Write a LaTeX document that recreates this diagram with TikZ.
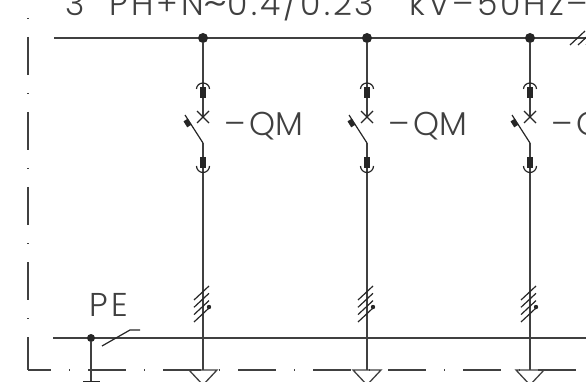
\documentclass[tikz,border=0pt]{standalone}
\usepackage{fontspec}
\newfontfamily\cadfont{Poppins Light}
\usetikzlibrary{positioning}
\definecolor{cadline}{gray}{0.25}
\tikzset{
  px/.style={x=1pt,y=-1pt},
  busline/.style={draw=cadline,line width=1.7pt},
  wireline/.style={draw=cadline,line width=1.3pt},
  thinline/.style={draw=black!85,line width=1.2pt},
  borderline/.style={draw=cadline,line width=1.2pt,dash pattern=on 38pt off 18pt on 1pt off 18pt},
  junction/.style={circle,fill=black!85,inner sep=0pt,minimum size=10pt},
  cadtext/.style={inner sep=0pt,text=cadline,font=\cadfont\fontsize{33}{33}\selectfont},
}
\begin{document}
\begin{tikzpicture}[px]
  \useasboundingbox (0,0) rectangle (586,382);
  \clip (0,0) rectangle (586,382);

  \node [cadtext,anchor=base west] (title) at (65,16) {\addfontfeature{LetterSpace=9}3\hspace{25pt}PH+N\scalebox{1.5}[1.1]{\char"7E}0.4/0.23\hspace{35pt}kV–50Hz–};

  % border
  \coordinate (bordertop) at (28,-38);
  \coordinate (bordercorner) at (28,370);
  \coordinate (borderright) at (586,370);
  \draw [borderline] (bordertop) -- (bordercorner);
  \draw [borderline,dash phase=15pt] (bordercorner) -- (borderright);

  % busbars
  \coordinate (busl) at (54,38);
  \coordinate (busr) at (586,38);
  \coordinate (pel) at (53,338);
  \coordinate (per) at (586,338);
  \draw [busline] (busl) -- (busr);
  \draw [wireline] (pel) -- (per);

  \node [junction,minimum size=8pt] (pedot) at (91,338) {};
  \node [cadtext,anchor=base west] (pelabel) at (89,316) {\addfontfeature{LetterSpace=12}PE};
  \coordinate (pedown) at (91,382);
  \coordinate (peslasta) at (102,346);
  \coordinate (peslastb) at (130,330);
  \coordinate (peslastc) at (140,330);
  \draw [wireline] (pedot) -- (pedown);
  \draw [thinline] (peslasta) -- (peslastb) -- (peslastc);
  \draw [thinline] (83,382) -- (100,382);

  \foreach \name/\xx in {a/203,b/367,c/530}{
    \node [junction] (top\name) at (\xx,38) {};
    \coordinate (cross\name) at (\xx,117);
    \coordinate (hinge\name) at (\xx,143);
    \coordinate (blade\name) at (\xx-18,115);
    \coordinate (foot\name) at (\xx,370);
    \draw [wireline] (top\name) -- (cross\name);
    \draw [wireline] (hinge\name) -- (foot\name);
    \draw [thinline] (hinge\name) -- (blade\name);
    % contacts
    \fill [black!85] (\xx-3,87) rectangle (\xx+3,98);
    \fill [black!85] (\xx-3,157) rectangle (\xx+3,168);
    \draw [thinline] (\xx-6.5,89) arc [start angle=180,end angle=0,x radius=6.5,y radius=-6];
    \draw [thinline] (\xx-6.5,166) arc [start angle=180,end angle=360,x radius=6.5,y radius=-6.5];
    \draw [thinline] (\xx-6,111) -- (\xx+6,123) (\xx-6,123) -- (\xx+6,111);
    \fill [black!85,rotate around={-58:(\xx-15.5,123)}] (\xx-19,120.5) rectangle (\xx-12,125.5);
    \node [cadtext,anchor=base west] (qm\name) at (\xx+21.5,136) {–\hspace{3pt}QM};
    % cable marks
    \foreach \yy in {300,307.3,314.6,322}{
      \draw [thinline] (\xx-9,\yy) -- (\xx+6,\yy-14);
    }
    \fill [black!85] (\xx+6,307) circle (2.2);
    \coordinate (trial\name) at (\xx-14,370);
    \coordinate (trir\name) at (\xx+14,370);
    \coordinate (triapex\name) at (\xx,385);
    \draw [wireline] (trial\name) -- (trir\name) -- (triapex\name) -- cycle;
  }
  \foreach \xx in {570,578,586}{
    \draw [thinline] (\xx,45) -- (\xx+15,31);
  }
\end{tikzpicture}
\end{document}
